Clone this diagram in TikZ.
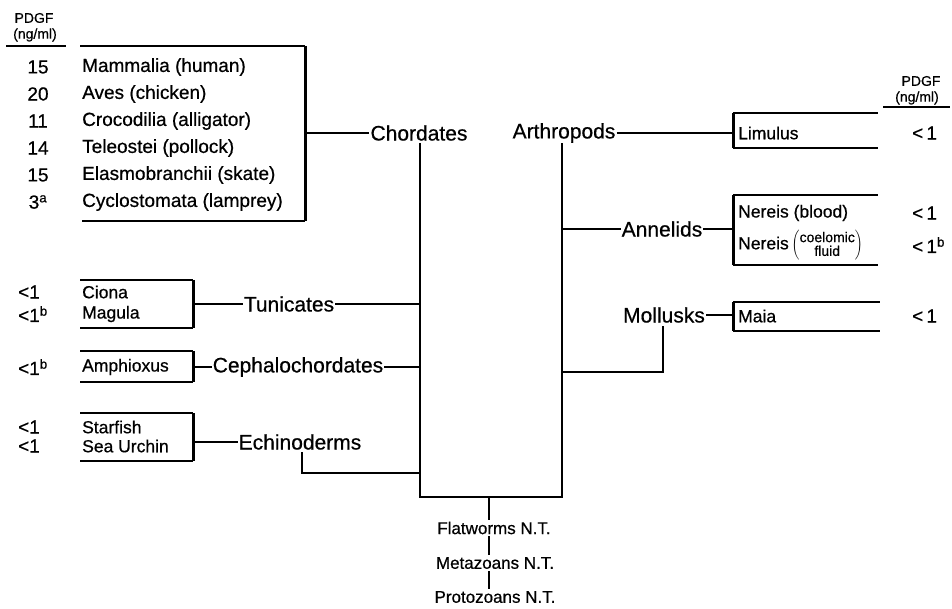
\documentclass[tikz,border=0pt]{standalone}
\usepackage{fontspec}
\setmainfont{Liberation Sans}[BoldFont=Liberation Sans, BoldFeatures={FakeBold=0.6}]
\begin{document}
\begin{tikzpicture}[x=1pt,y=-1pt,
  grp/.style={font=\fontsize{21}{24}\selectfont\bfseries, inner xsep=1pt, inner ysep=0pt},
  lbox/.style={font=\fontsize{19}{22}\selectfont\bfseries, anchor=west, inner sep=0pt},
  sbox/.style={font=\fontsize{17.5}{20}\selectfont\bfseries, anchor=west, inner sep=0pt},
  rbox/.style={font=\fontsize{17.5}{20}\selectfont\bfseries, anchor=west, inner sep=0pt},
  val/.style={font=\fontsize{19}{22}\selectfont\bfseries, inner sep=0pt},
  sval/.style={font=\fontsize{19}{22}\selectfont\bfseries, anchor=west, inner sep=0pt},
  hdr/.style={font=\fontsize{14}{15}\selectfont\bfseries, inner sep=0pt},
  nt/.style={font=\fontsize{17}{20}\selectfont\bfseries, inner xsep=0pt, inner ysep=2pt},
  ln/.style={line width=2pt},
  thk/.style={line width=3pt}]
\useasboundingbox (0,0) rectangle (952,609);

% ---------- left header ----------
\node[hdr] (hpl) at (34,18) {PDGF};
\node[hdr] (hnl) at (35,35) {(ng/ml)};
\draw[line width=1.3pt] (6,46) -- (66,46);

% ---------- chordate box ----------
\coordinate (cbTL) at (80,46);
\coordinate (cbTR) at (305,46);
\coordinate (cbBL) at (82,221);
\coordinate (cbBR) at (305,221);
\draw[ln] (cbTL) -- (cbTR);
\draw[ln] (cbBL) -- (cbBR);
\draw[thk] (cbTR) -- (cbBR);
\foreach \v/\t/\y [count=\i] in {15/Mammalia (human)/67, 20/Aves (chicken)/94, 11/Crocodilia (alligator)/121, 14/Teleostei (pollock)/148, 15/Elasmobranchii (skate)/175, 3\textsuperscript{a}/Cyclostomata (lamprey)/202}{
  \node[val] (cv\i) at (38,\y) {\v};
  \node[lbox] (ct\i) at (82,\y) {\t};
}

% ---------- Ciona / Tunicates ----------
\coordinate (tbTL) at (80,280); \coordinate (tbTR) at (193,280);
\coordinate (tbBL) at (80,328); \coordinate (tbBR) at (193,328);
\draw[ln] (tbTL) -- (tbTR); \draw[ln] (tbBL) -- (tbBR);
\draw[thk] (tbTR) -- (tbBR);
\node[sval] (tv1) at (18,292) {<1};
\node[sval] (tv2) at (18,314) {<1\textsuperscript{b}};
\node[sbox] (tt1) at (82,292) {Ciona};
\node[sbox] (tt2) at (82,314) {Magula};

% ---------- Amphioxus ----------
\coordinate (abTL) at (80,351); \coordinate (abTR) at (193,351);
\coordinate (abBL) at (80,382); \coordinate (abBR) at (193,382);
\draw[ln] (abTL) -- (abTR); \draw[ln] (abBL) -- (abBR);
\draw[thk] (abTR) -- (abBR);
\node[sval] (av1) at (18,367) {<1\textsuperscript{b}};
\node[sbox] (at1) at (82,367) {Amphioxus};

% ---------- Starfish ----------
\coordinate (ebTL) at (80,413); \coordinate (ebTR) at (193,413);
\coordinate (ebBL) at (80,461); \coordinate (ebBR) at (193,461);
\draw[ln] (ebTL) -- (ebTR); \draw[ln] (ebBL) -- (ebBR);
\draw[thk] (ebTR) -- (ebBR);
\node[sval] (ev1) at (18,427) {<1};
\node[sval] (ev2) at (18,446) {<1};
\node[sbox] (et1) at (82,427) {Starfish};
\node[sbox] (et2) at (82,446) {Sea Urchin};

% ---------- right header ----------
\node[hdr] (hpr) at (921,81) {PDGF};
\node[hdr] (hnr) at (917,98) {(ng/ml)};
\draw[line width=1.3pt] (883,107) -- (950,107);

% ---------- Limulus box ----------
\coordinate (lbTL) at (733,113); \coordinate (lbTR) at (878,113);
\coordinate (lbBL) at (733,148); \coordinate (lbBR) at (878,148);
\draw[ln] (lbTL) -- (lbTR); \draw[ln] (lbBL) -- (lbBR);
\draw[thk] (lbTL) -- (lbBL);
\node[rbox] (lt1) at (738,133) {Limulus};
\node[sval] (lv1) at (912,133) {<\,1};

% ---------- Nereis box ----------
\coordinate (nbTL) at (733,195); \coordinate (nbTR) at (878,195);
\coordinate (nbBL) at (733,265); \coordinate (nbBR) at (878,265);
\draw[ln] (nbTL) -- (nbTR); \draw[ln] (nbBL) -- (nbBR);
\draw[thk] (nbTL) -- (nbBL);
\node[rbox] (nt1) at (738,213) {Nereis (blood)};
\node[rbox] (nt2) at (738,245) {Nereis\,$\left(\mbox{\fontsize{14}{12}\selectfont\bfseries\begin{tabular}{@{}c@{}}coelomic\\fluid\end{tabular}}\right)$};
\node[sval] (nv1) at (912,213) {<\,1};
\node[sval] (nv2) at (912,245) {<\,1\textsuperscript{b}};

% ---------- Maia box ----------
\coordinate (mbTL) at (733,302); \coordinate (mbTR) at (880,302);
\coordinate (mbBL) at (733,331); \coordinate (mbBR) at (880,331);
\draw[ln] (mbTL) -- (mbTR); \draw[ln] (mbBL) -- (mbBR);
\draw[thk] (mbTL) -- (mbBL);
\node[rbox] (mt1) at (738,316) {Maia};
\node[sval] (mv1) at (912,316) {<\,1};

% ---------- group labels ----------
\node[grp] (chord) at (419,133) {Chordates};
\node[grp] (arth) at (564,133) {Arthropods};
\node[grp] (tuni) at (289,304) {Tunicates};
\node[grp] (ceph) at (298,367) {Cephalochordates};
\node[grp] (echi) at (300,442) {Echinoderms};
\node[grp] (anne) at (662,229) {Annelids};
\node[grp] (moll) at (664,315) {Mollusks};

% ---------- bottom ----------
\node[nt] (flat) at (494,528) {Flatworms N.T.};
\node[nt] (meta) at (495,563) {Metazoans N.T.};
\node[nt] (prot) at (495,597) {Protozoans N.T.};

% ---------- tree ----------
\coordinate (jL) at (420,497);
\coordinate (jR) at (562,497);
\coordinate (jS) at (489,497);
\coordinate (cTop) at (420,143);
\coordinate (aTop) at (562,143);

\draw[ln] (cbTR |- chord) -- (chord.west);
\draw[ln] (arth.east) -- (lbTL |- arth);
\draw[ln] (cTop) -- (jL) -- (jR) -- (aTop);
\draw[ln] (jS) -- (jS |- flat.north);
\draw[ln] (flat.south -| jS) -- (meta.north -| jS);
\draw[ln] (meta.south -| jS) -- (prot.north -| jS);

\draw[ln] (tbTR |- tuni) -- (tuni.west);
\draw[ln] (tuni.east) -- (cTop |- tuni);
\draw[ln] (abTR |- ceph) -- (ceph.west);
\draw[ln] (ceph.east) -- (cTop |- ceph);
\draw[ln] (ebTR |- echi) -- (echi.west);
\coordinate (eDrop) at (302,452);
\draw[ln] (eDrop) -- (302,473) -- (cTop |- 0,473);

\draw[ln] (aTop |- anne) -- (anne.west);
\draw[ln] (anne.east) -- (nbTL |- anne);
\draw[ln] (moll.east) -- (mbTL |- moll);
\coordinate (mDrop) at (663,326);
\draw[ln] (mDrop) -- (663,372) -- (aTop |- 0,372);
\end{tikzpicture}
\end{document}
